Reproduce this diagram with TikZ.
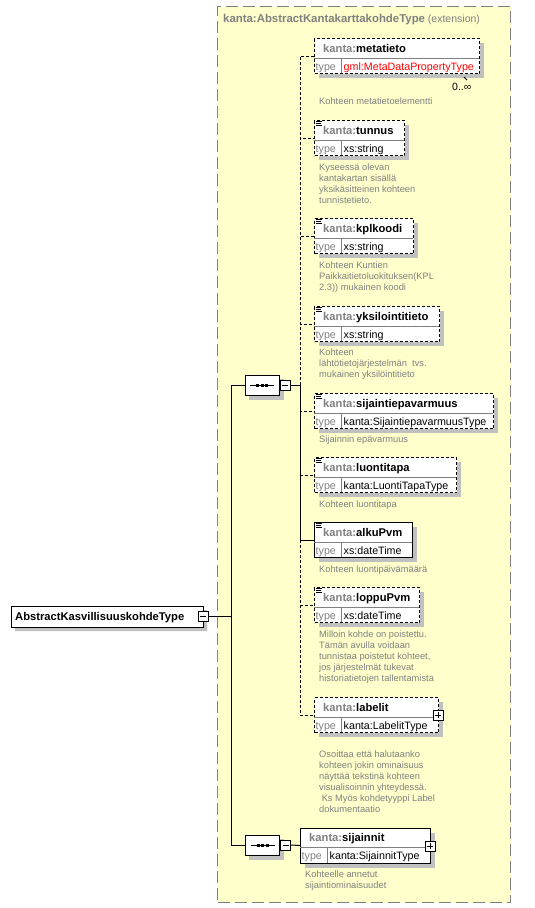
\documentclass[tikz,border=0pt]{standalone}
\usepackage{fontspec}
\setmainfont{Liberation Sans}
\usetikzlibrary{shapes.misc}
\definecolor{bgyellow}{RGB}{255,255,204}
\definecolor{pfx}{RGB}{128,128,128}
\definecolor{shadegray}{RGB}{192,192,192}
\definecolor{desccol}{RGB}{128,128,128}
\definecolor{frame}{RGB}{128,128,128}
\tikzset{
  conn/.style={line width=1pt,black},
  dconn/.style={line width=1pt,black,dash pattern=on 3pt off 2pt},
  optb/.style={dash pattern=on 3pt off 2pt},
  reqb/.style={solid},
  ebox/.style={draw,line width=1pt,fill=white,inner sep=0pt,minimum height=35pt},
  sepline/.style={line width=0.8pt,pfx},
  nametext/.style={anchor=base west,inner sep=0pt,font=\fontsize{11.2}{13}\selectfont\bfseries},
  typetext/.style={anchor=base west,inner sep=0pt,font=\fontsize{10.7}{13}\selectfont},
  desctext/.style={anchor=base west,inner sep=0pt,text=desccol,font=\fontsize{9.3}{11}\selectfont},
  iconline/.style={line width=0.7pt,black},
  seqshape/.style={chamfered rectangle,
    chamfered rectangle xsep=5pt,chamfered rectangle ysep=5pt,
    minimum width=34pt,minimum height=20pt,inner sep=0pt},
  seqbox/.style={seqshape,draw,line width=1pt,fill=white},
  seqshadow/.style={seqshape,fill=shadegray,draw=shadegray},
  rootshape/.style={chamfered rectangle,chamfered rectangle corners={north west,south west},
    chamfered rectangle xsep=4pt,chamfered rectangle ysep=4pt,minimum width=192pt,minimum height=21pt,inner sep=0pt},
  togbox/.style={draw,line width=0.8pt,fill=white,minimum size=10pt,inner sep=0pt},
}
\newcommand\dl[1]{\hbox{#1}}
\newcommand\desc[4]{\node[desctext] (#1) at (#2,#3) {\vtop{\baselineskip=11pt #4}};}
\newcommand\xelem[9]{%
  \path[fill=shadegray] (#2+5,#3+5) -- (#4+5,#3+5) -- (#4+5,#3+40) -- (#2+5,#3+40) -- cycle;
  \node[ebox,#8,minimum width={#4pt-#2pt},anchor=north west] (#1) at (#2,#3) {};
  \draw[sepline] (#2,#3+20) -- (#4,#3+20);
  \draw[sepline] (#5,#3+20) -- (#5,#3+35);
  \node[nametext] (#1-n) at (#2+9,#3+14) {\textcolor{pfx}{kanta:}#6};
  \node[typetext,text=pfx] (#1-k) at (#2+1.5,#3+32) {type};
  \node[typetext] (#1-v) at (#5+2.5,#3+32) {#7};
  \ifnum#9=1
    \draw[iconline] (#2+2,#3+1.8)--(#2+8,#3+1.8) (#2+2,#3+3.5)--(#2+7,#3+3.5) (#2+2,#3+5.2)--(#2+8,#3+5.2);
  \fi
}
\newcommand\minusbox[3]{\node[togbox] (#1) at (#2,#3) {};
  \draw[line width=0.8pt] ([xshift=-3pt]#1.center) -- ([xshift=3pt]#1.center);}
\newcommand\plusbox[3]{\node[togbox] (#1) at (#2,#3) {};
  \draw[line width=0.8pt] ([xshift=-3pt]#1.center) -- ([xshift=3pt]#1.center)
    ([yshift=-3pt]#1.center) -- ([yshift=3pt]#1.center);}
\newcommand\seqdots[1]{%
  \draw[line width=0.9pt] ([xshift=-12pt]#1.center) -- ([xshift=12pt]#1.center);
  \fill ([xshift=-6pt,yshift=-1.5pt]#1.center) rectangle ++(3pt,3pt);
  \fill ([xshift=-1.5pt,yshift=-1.5pt]#1.center) rectangle ++(3pt,3pt);
  \fill ([xshift=3pt,yshift=-1.5pt]#1.center) rectangle ++(3pt,3pt);}
\begin{document}
\begin{tikzpicture}[x=1pt,y=-1pt]
\useasboundingbox (0,0) rectangle (535,908);
% extension frame
\node[draw=frame,fill=bgyellow,line width=1pt,dash pattern=on 12pt off 5pt,
  minimum width=293pt,minimum height=896pt,anchor=north west,inner sep=0pt] (ext) at (217,6) {};
\node[anchor=base west,inner sep=0pt,text=pfx,font=\fontsize{10.5}{12}\selectfont] (exttitle) at (223,22)
  {{\fontsize{11.4}{12}\selectfont\bfseries kanta:AbstractKantakarttakohdeType} (extension)};

% root
\node[rootshape,fill=shadegray] (root-sh) at (111,620.5) {};
\node[rootshape,draw,line width=1pt,fill=white] (root) at (107,616.5) {};
\node[nametext] (root-n) at (15,620.5) {AbstractKasvillisuuskohdeType};
\minusbox{rootm}{203}{616.5}

% sequences
\node[seqshadow] (seqA-sh) at (266,389) {};
\node[seqbox] (seqA) at (262,385) {};
\seqdots{seqA}
\minusbox{seqAm}{285}{385}
\node[seqshadow] (seqB-sh) at (266.5,849) {};
\node[seqbox] (seqB) at (262.5,845) {};
\seqdots{seqB}
\minusbox{seqBm}{285.5}{845}

% elements
\xelem{metatieto}{314}{38}{479}{341}{metatieto}{\textcolor{red}{gml:MetaDataPropertyType}}{optb}{0}
\xelem{tunnus}{314}{120}{404}{341}{tunnus}{xs:string}{optb}{1}
\xelem{kplkoodi}{314}{218}{413}{341}{kplkoodi}{xs:string}{optb}{1}
\xelem{yksilointitieto}{314}{306}{439}{341}{yksilointitieto}{xs:string}{optb}{1}
\xelem{sijaintiepavarmuus}{314}{393}{493}{341}{sijaintiepavarmuus}{kanta:SijaintiepavarmuusType}{optb}{1}
\xelem{luontitapa}{314}{457}{456}{341}{luontitapa}{kanta:LuontiTapaType}{optb}{1}
\xelem{alkuPvm}{314}{522}{412}{341}{alkuPvm}{xs:dateTime}{reqb}{1}
\xelem{loppuPvm}{314}{587}{419}{341}{loppuPvm}{xs:dateTime}{optb}{1}
\xelem{labelit}{314}{697}{438}{341}{labelit}{kanta:LabelitType}{optb}{0}
\xelem{sijainnit}{300}{827.5}{430}{327}{sijainnit}{kanta:SijainnitType}{reqb}{0}
\plusbox{labelitp}{438}{715}
\plusbox{sijainnitp}{430}{846}

% multiplicity
\node[anchor=base west,inner sep=0pt,font=\fontsize{10.5}{12}\selectfont] (mult) at (452,90.5) {0..∞};
\draw[line width=0.8pt] (464,77) -- (467,80);

% descriptions
\desc{d-metatieto}{319}{104}{\dl{Kohteen metatietoelementti}}
\desc{d-tunnus}{319}{170}{\dl{Kyseessä olevan}\dl{kantakartan sisällä}\dl{yksikäsitteinen kohteen}\dl{tunnistetieto.}}
\desc{d-kplkoodi}{319}{268}{\dl{Kohteen Kuntien}\dl{Paikkaitietoluokituksen(KPL}\dl{2.3)) mukainen koodi}}
\desc{d-yksi}{319}{355}{\dl{Kohteen}\dl{lähtötietojärjestelmän\ \ tvs.}\dl{mukainen yksilöintitieto}}
\desc{d-sij}{319}{442}{\dl{Sijainnin epävarmuus}}
\desc{d-luonti}{319}{507}{\dl{Kohteen luontitapa}}
\desc{d-alku}{319}{572}{\dl{Kohteen luontipäivämäärä}}
\desc{d-loppu}{319}{637}{\dl{Milloin kohde on poistettu.}\dl{Tämän avulla voidaan}\dl{tunnistaa poistetut kohteet,}\dl{jos järjestelmät tukevat}\dl{historiatietojen tallentamista}}
\desc{d-labelit}{319}{757}{\dl{Osoittaa että halutaanko}\dl{kohteen jokin ominaisuus}\dl{näyttää tekstinä kohteen}\dl{visualisoinnin yhteydessä.}\dl{\ Ks Myös kohdetyyppi Label}\dl{dokumentaatio}}
\desc{d-sijainnit}{305}{877}{\dl{Kohteelle annetut}\dl{sijaintiominaisuudet}}

% connectors
\coordinate (trunkR) at (231,616.5);
\draw[conn] (rootm.east) -- (trunkR);
\draw[conn] (trunkR) |- (seqA.west);
\draw[conn] (trunkR) |- (seqB.west);
\coordinate (trunkA) at (300,385);
\draw[conn] (seqAm.east) -- (trunkA);
\foreach \e in {metatieto,tunnus,kplkoodi,yksilointitieto,sijaintiepavarmuus,luontitapa,loppuPvm,labelit}
  \draw[dconn] (trunkA) |- (\e.west);
\draw[conn] (trunkA) |- (alkuPvm.west);
\draw[conn] (seqBm.east) -- (sijainnit.west);
\end{tikzpicture}
\end{document}
